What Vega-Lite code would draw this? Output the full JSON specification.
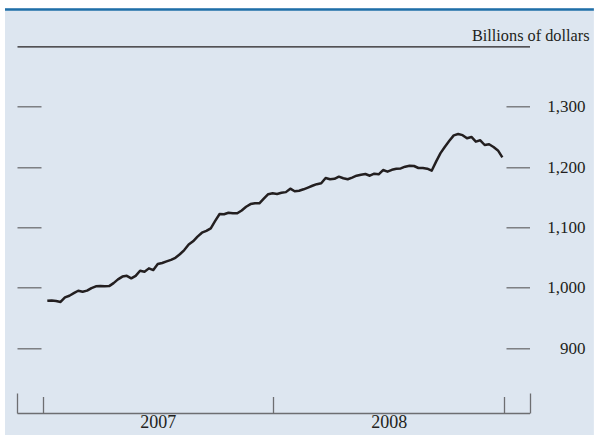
{
  "$schema": "https://vega.github.io/schema/vega-lite/v6.json",
  "width": 512.5,
  "height": 366.7,
  "autosize": {"type": "none"},
  "padding": {"left": 17, "top": 46.3, "right": 64.5, "bottom": 22},
  "background": "white",
  "config": {
    "view": {"stroke": null},
    "axis": {"grid": false, "labelFont": "Liberation Serif", "titleFont": "Liberation Serif", "labelColor": "#231f20", "titleColor": "#231f20"}
  },
  "data": {"values": [
    {"date": "2007-01-08", "value": 978.4}, {"date": "2007-01-15", "value": 979}, {"date": "2007-01-22", "value": 978}, {"date": "2007-01-29", "value": 976.5},
    {"date": "2007-02-05", "value": 984}, {"date": "2007-02-12", "value": 986.8}, {"date": "2007-02-19", "value": 991}, {"date": "2007-02-26", "value": 995},
    {"date": "2007-03-05", "value": 993.4}, {"date": "2007-03-12", "value": 995.2}, {"date": "2007-03-19", "value": 999.5}, {"date": "2007-03-26", "value": 1002.4},
    {"date": "2007-04-02", "value": 1002.8}, {"date": "2007-04-09", "value": 1002.4}, {"date": "2007-04-16", "value": 1002.7}, {"date": "2007-04-23", "value": 1007.6}, {"date": "2007-04-30", "value": 1013.8},
    {"date": "2007-05-07", "value": 1018.5}, {"date": "2007-05-14", "value": 1019.8}, {"date": "2007-05-21", "value": 1015.6}, {"date": "2007-05-28", "value": 1019.7},
    {"date": "2007-06-04", "value": 1028.2}, {"date": "2007-06-11", "value": 1026.5}, {"date": "2007-06-18", "value": 1032.1}, {"date": "2007-06-25", "value": 1029.3},
    {"date": "2007-07-02", "value": 1039.2}, {"date": "2007-07-09", "value": 1041}, {"date": "2007-07-16", "value": 1043.6}, {"date": "2007-07-23", "value": 1046.2}, {"date": "2007-07-30", "value": 1049.6},
    {"date": "2007-08-06", "value": 1055.5}, {"date": "2007-08-13", "value": 1062.4}, {"date": "2007-08-20", "value": 1071.5}, {"date": "2007-08-27", "value": 1077},
    {"date": "2007-09-03", "value": 1084.7}, {"date": "2007-09-10", "value": 1091.2}, {"date": "2007-09-17", "value": 1094.3}, {"date": "2007-09-24", "value": 1098.5},
    {"date": "2007-10-01", "value": 1110.7}, {"date": "2007-10-08", "value": 1122.2}, {"date": "2007-10-15", "value": 1121.8}, {"date": "2007-10-22", "value": 1124.3}, {"date": "2007-10-29", "value": 1123.3},
    {"date": "2007-11-05", "value": 1123.3}, {"date": "2007-11-12", "value": 1128.1}, {"date": "2007-11-19", "value": 1134.2}, {"date": "2007-11-26", "value": 1138.6},
    {"date": "2007-12-03", "value": 1139.9}, {"date": "2007-12-10", "value": 1139.9}, {"date": "2007-12-17", "value": 1147.6}, {"date": "2007-12-24", "value": 1155}, {"date": "2007-12-31", "value": 1156.4},
    {"date": "2008-01-07", "value": 1155.4}, {"date": "2008-01-14", "value": 1157.3}, {"date": "2008-01-21", "value": 1158.4}, {"date": "2008-01-28", "value": 1164.1},
    {"date": "2008-02-04", "value": 1159.8}, {"date": "2008-02-11", "value": 1160.8}, {"date": "2008-02-18", "value": 1163.1}, {"date": "2008-02-25", "value": 1166},
    {"date": "2008-03-03", "value": 1169}, {"date": "2008-03-10", "value": 1171.6}, {"date": "2008-03-17", "value": 1173}, {"date": "2008-03-24", "value": 1181.8}, {"date": "2008-03-31", "value": 1179.7},
    {"date": "2008-04-07", "value": 1180.5}, {"date": "2008-04-14", "value": 1184}, {"date": "2008-04-21", "value": 1181.4}, {"date": "2008-04-28", "value": 1179.7},
    {"date": "2008-05-05", "value": 1182.5}, {"date": "2008-05-12", "value": 1185.6}, {"date": "2008-05-19", "value": 1187.3}, {"date": "2008-05-26", "value": 1188.4},
    {"date": "2008-06-02", "value": 1185.6}, {"date": "2008-06-09", "value": 1188.9}, {"date": "2008-06-16", "value": 1187.9}, {"date": "2008-06-23", "value": 1195}, {"date": "2008-06-30", "value": 1192.3},
    {"date": "2008-07-07", "value": 1195.4}, {"date": "2008-07-14", "value": 1197}, {"date": "2008-07-21", "value": 1197.7}, {"date": "2008-07-28", "value": 1200.6},
    {"date": "2008-08-04", "value": 1202.2}, {"date": "2008-08-11", "value": 1201.7}, {"date": "2008-08-18", "value": 1198.4}, {"date": "2008-08-25", "value": 1198.3},
    {"date": "2008-09-01", "value": 1197.2}, {"date": "2008-09-08", "value": 1193.9}, {"date": "2008-09-15", "value": 1209}, {"date": "2008-09-22", "value": 1223}, {"date": "2008-09-29", "value": 1233.7},
    {"date": "2008-10-06", "value": 1243.4}, {"date": "2008-10-13", "value": 1252.4}, {"date": "2008-10-20", "value": 1254.6}, {"date": "2008-10-27", "value": 1252.8},
    {"date": "2008-11-03", "value": 1247.6}, {"date": "2008-11-10", "value": 1249.8}, {"date": "2008-11-17", "value": 1242}, {"date": "2008-11-24", "value": 1244.3},
    {"date": "2008-12-01", "value": 1236.5}, {"date": "2008-12-08", "value": 1237.7}, {"date": "2008-12-15", "value": 1233.2}, {"date": "2008-12-22", "value": 1227.5}, {"date": "2008-12-29", "value": 1216}
  ]},
  "resolve": {"axis": {"x": "independent", "y": "independent"}},
  "layer": [
    {
      "data": {"values": [{}]},
      "mark": {"type": "rect", "color": "#dde6f0"},
      "encoding": {
        "x": {"datum": {"year": 2006, "month": 11, "date": 2, "utc": true}, "type": "temporal",
          "scale": {"type": "utc", "domain": [{"year": 2006, "month": 11, "date": 21, "utc": true}, {"year": 2009, "month": 2, "date": 10, "utc": true}]},
          "axis": {"orient": "top", "zindex": 1, "domain": true, "domainColor": "#231f20", "domainWidth": 1.3, "ticks": false, "labels": false, "title": null}},
        "x2": {"datum": {"year": 2009, "month": 5, "date": 23, "utc": true}},
        "y": {"datum": 1463, "type": "quantitative",
          "scale": {"domain": [792.5, 1400], "nice": false, "zero": false},
          "axis": {"orient": "right", "zindex": 1, "values": [900, 1000, 1100, 1200, 1300], "format": ",d", "domain": false,
            "tickSize": -23.5, "tickColor": "#6d6e71", "tickWidth": 1.3,
            "labelFontSize": 17, "labelAlign": "right", "labelBaseline": "middle", "labelPadding": 79,
            "title": "Billions of dollars", "titleAngle": 0, "titleAlign": "right", "titleBaseline": "alphabetic",
            "titleX": 59.5, "titleY": -5.5, "titleFontSize": 16.3, "titleFontWeight": "normal"}},
        "y2": {"datum": 750}
      }
    },
    {
      "data": {"values": [{}]},
      "mark": {"type": "rect", "color": "#1f6fa8"},
      "encoding": {
        "x": {"datum": {"year": 2006, "month": 11, "date": 2, "utc": true}, "type": "temporal", "axis": null},
        "x2": {"datum": {"year": 2009, "month": 5, "date": 23, "utc": true}},
        "y": {"datum": 1463, "type": "quantitative", "axis": null},
        "y2": {"datum": 1459}
      }
    },
    {
      "mark": {"type": "line", "color": "#231f20", "strokeWidth": 2.5, "strokeJoin": "round"},
      "encoding": {
        "x": {"field": "date", "type": "temporal",
          "axis": {"orient": "bottom", "zindex": 1, "title": null,
            "values": [{"year": 2006, "month": 11, "date": 21, "utc": true}, {"year": 2007, "month": 1, "date": 1, "utc": true}, {"year": 2007, "month": 7, "date": 2, "utc": true}, {"year": 2008, "month": 1, "date": 1, "utc": true}, {"year": 2008, "month": 7, "date": 2, "utc": true}, {"year": 2009, "month": 1, "date": 1, "utc": true}, {"year": 2009, "month": 2, "date": 10, "utc": true}],
            "labelExpr": "utcmonth(datum.value) == 6 ? '' + utcyear(datum.value) : ''",
            "tickSize": {"condition": [{"test": "utcmonth(datum.value) == 6", "value": 0}, {"test": "utcyear(datum.value) == 2006 || utcmonth(datum.value) == 1", "value": -20}], "value": -16.5},
            "tickColor": "#6d6e71", "tickWidth": 1.3, "domainColor": "#6d6e71", "domainWidth": 1.5,
            "labelFontSize": 18, "labelPadding": 0, "labelFlush": false, "labelOverlap": false}},
        "y": {"field": "value", "type": "quantitative",
          "axis": {"orient": "left", "zindex": 1, "values": [900, 1000, 1100, 1200, 1300], "domain": false, "labels": false, "title": null,
            "tickSize": -24, "tickColor": "#6d6e71", "tickWidth": 1.3}}
      }
    }
  ]
}
